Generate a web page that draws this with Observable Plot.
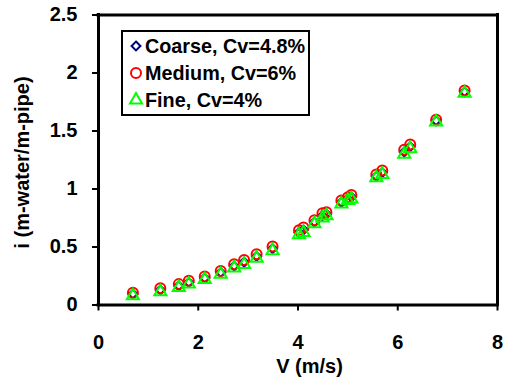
<!DOCTYPE html>
<html>
<head>
<meta charset="utf-8">
<script src="https://cdn.jsdelivr.net/npm/d3@7"></script>
<script src="https://cdn.jsdelivr.net/npm/@observablehq/plot@0.6"></script>
<style>
  html, body { margin: 0; padding: 0; background: #fff; }
  #chart svg { display: block; }
</style>
</head>
<body>
<div id="chart"></div>
<script>
// Mean flow velocity V (m/s) for each test run
const velocity = [0.69, 1.24, 1.61, 1.81, 2.13, 2.45, 2.72, 2.92, 3.17, 3.49, 4.02, 4.11, 4.33, 4.49, 4.57, 4.87, 5.0, 5.07, 5.57, 5.69, 6.13, 6.25, 6.77, 7.34];

// Hydraulic gradient i (m-water/m-pipe) for each sand grade
const coarse = [0.095, 0.13, 0.165, 0.195, 0.232, 0.28, 0.336, 0.37, 0.42, 0.486, 0.625, 0.648, 0.715, 0.77, 0.785, 0.885, 0.914, 0.932, 1.11, 1.142, 1.32, 1.365, 1.588, 1.838];
const medium = [0.106, 0.145, 0.18, 0.21, 0.245, 0.294, 0.352, 0.387, 0.438, 0.504, 0.645, 0.669, 0.73, 0.79, 0.80, 0.90, 0.928, 0.949, 1.125, 1.159, 1.338, 1.384, 1.598, 1.85];
const fine = [0.08, 0.115, 0.15, 0.18, 0.22, 0.265, 0.32, 0.35, 0.404, 0.467, 0.605, 0.625, 0.70, 0.75, 0.77, 0.87, 0.90, 0.914, 1.096, 1.125, 1.30, 1.347, 1.577, 1.825];

const seriesNames = ["Coarse, Cv=4.8%", "Medium, Cv=6%", "Fine, Cv=4%"];
const xTicks = [0, 2, 4, 6, 8];
const yTicks = [0, 0.5, 1, 1.5, 2, 2.5];
const xTitle = "V (m/s)";
const yTitle = "i (m-water/m-pipe)";

const rows = (vals, name) => velocity.map((v, k) => ({v, i: vals[k], name}));

// Marker style per series
const styles = [
  {symbol: "diamond2", r: 4, stroke: "#000080"},
  {symbol: "circle", r: 5, stroke: "#ff0000"},
  {symbol: "triangle", r: 4.5, stroke: "#00ff00"}
];
const seriesData = [coarse, medium, fine];

const font = "'Liberation Sans', Arial, Helvetica, sans-serif";

const chart = Plot.plot({
  width: 506,
  height: 382,
  marginLeft: 98,
  marginRight: 9,
  marginTop: 14.5,
  marginBottom: 77.5,
  style: {fontFamily: font, fontWeight: "bold", fontSize: "20px", color: "#000", background: "#fff", overflow: "visible"},
  x: {domain: [0, 8]},
  y: {domain: [0, 2.5]},
  marks: [
    Plot.axisX({ticks: xTicks, tickSize: 6, tickPadding: 24, strokeWidth: 2, label: null, tickFormat: d => String(d)}),
    Plot.axisY({ticks: yTicks, tickSize: 6, tickPadding: 15, strokeWidth: 2, label: null, tickFormat: d => String(d)}),
    // heavy plot-area border
    Plot.ruleX([0, 8], {stroke: "#000", strokeWidth: 3, strokeLinecap: "square"}),
    Plot.ruleY([0, 2.5], {stroke: "#000", strokeWidth: 3, strokeLinecap: "square"}),
    ...seriesData.map((vals, s) =>
      Plot.dot(rows(vals, seriesNames[s]), {
        x: "v", y: "i",
        symbol: styles[s].symbol, r: styles[s].r,
        stroke: styles[s].stroke, strokeWidth: 2, fill: "none"
      })
    )
  ]
});

const svg = d3.select(chart);
const xs = chart.scale("x"), ys = chart.scale("y");

// Axis titles
svg.append("text")
  .attr("x", (xs.apply(0) + xs.apply(8)) / 2 + 12)
  .attr("y", 373)
  .attr("text-anchor", "middle")
  .attr("font-family", font).attr("font-weight", "bold").attr("font-size", 20)
  .text(xTitle);

svg.append("text")
  .attr("transform", `translate(29,${(ys.apply(0) + ys.apply(2.5)) / 2 + 3}) rotate(-90)`)
  .attr("text-anchor", "middle")
  .attr("font-family", font).attr("font-weight", "bold").attr("font-size", 20)
  .text(yTitle);

// Legend box
const lg = svg.append("g");
lg.append("rect")
  .attr("x", 122).attr("y", 31).attr("width", 187).attr("height", 84)
  .attr("fill", "#fff").attr("stroke", "#000").attr("stroke-width", 2);

const symbolFor = {diamond2: d3.symbolDiamond2, circle: d3.symbolCircle, triangle: d3.symbolTriangle};
seriesNames.forEach((name, s) => {
  const cy = 46 + s * 27;
  lg.append("path")
    .attr("transform", `translate(136,${cy})`)
    .attr("d", d3.symbol(symbolFor[styles[s].symbol], Math.PI * styles[s].r * styles[s].r)())
    .attr("fill", "none").attr("stroke", styles[s].stroke).attr("stroke-width", 2);
  lg.append("text")
    .attr("x", 145).attr("y", cy + 7)
    .attr("text-anchor", "start")
    .attr("font-family", font).attr("font-weight", "bold").attr("font-size", 19.8)
    .text(name);
});

document.getElementById("chart").appendChild(chart);
</script>
</body>
</html>
